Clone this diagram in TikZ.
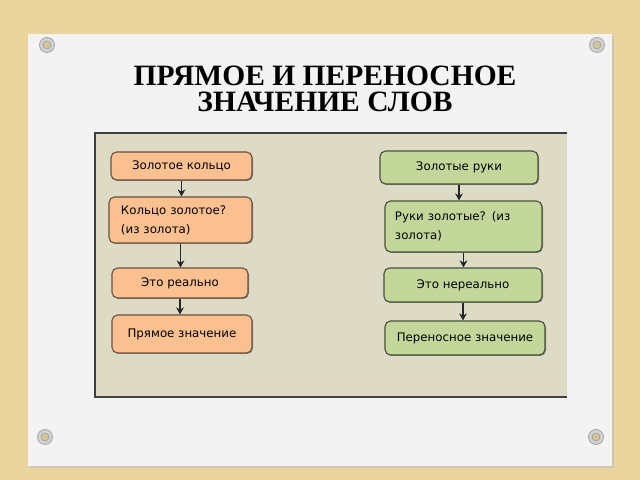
\documentclass[tikz,border=0pt]{standalone}
\usepackage{fontspec}
\setmainfont{Liberation Serif}
\newfontfamily\boxfont{DejaVu Sans}
\usepackage{tikz}
\usetikzlibrary{arrows.meta,positioning,shadows}
\usepackage{xcolor}
\definecolor{woodbg}{RGB}{234,213,158}
\definecolor{cardwhite}{RGB}{243,243,243}
\definecolor{panelgray}{RGB}{221,218,197}
\definecolor{ringorange}{RGB}{250,192,144}
\definecolor{ringedge}{RGB}{105,82,64}
\definecolor{handgreen}{RGB}{196,215,155}
\definecolor{handedge}{RGB}{72,80,62}
\tikzstyle{arrow} = [line width=0.8pt,-{Stealth[length=5pt,width=5.5pt]},color=black!85]
\tikzstyle{goldbox} = [rectangle, rounded corners=4pt, draw=ringedge, fill=ringorange, line width=0.8pt, inner sep=0pt, font=\boxfont\fontsize{8.4}{13.5}\selectfont, drop shadow={shadow xshift=0.7pt, shadow yshift=-0.7pt, opacity=0.6, fill=black!70}]
\tikzstyle{handbox} = [goldbox, draw=handedge, fill=handgreen]
\tikzstyle{screw} = [fill=gray!35, draw=gray!70, line width=0.6pt]
\tikzstyle{screwhole} = [fill=woodbg!80!gray, draw=gray!80, line width=0.4pt]

\begin{document}
\begin{tikzpicture}[x=0.025cm, y=-0.025cm]
\useasboundingbox (0,0) rectangle (640,480);
% Wood and card
\fill[woodbg] (0,0) rectangle (640,480);
\fill[black!25, opacity=0.6] (30,36) rectangle (614,468);
\fill[cardwhite] (28,34) rectangle (612,466);

% Screws
\filldraw[screw] (47,45) circle (7.5);
\filldraw[screwhole] (47,45) circle (4);
\filldraw[screw] (597,45) circle (7.5);
\filldraw[screwhole] (597,45) circle (4);
\filldraw[screw] (45,437) circle (7.5);
\filldraw[screwhole] (45,437) circle (4);
\filldraw[screw] (596,437) circle (7.5);
\filldraw[screwhole] (596,437) circle (4);

% Title
\node[font=\bfseries\fontsize{21}{19}\selectfont, align=center] (title) at (325,89) {ПРЯМОЕ И ПЕРЕНОСНОЕ\\ЗНАЧЕНИЕ СЛОВ};

% Panel
\fill[panelgray] (95,133) rectangle (567,397);
\draw[line width=0.8pt, black!75] (567,133) -- (95,133) -- (95,397) -- (567,397);

% Left column
\node[goldbox, minimum width=3.525cm, minimum height=0.7cm] (l1) at (181.5,166) {Золотое кольцо};
\node[goldbox, minimum width=3.575cm, minimum height=1.15cm, text width=2.975cm, align=left] (l2) at (180.5,220) {Кольцо золотое?\\(из золота)};
\node[goldbox, minimum width=3.4cm, minimum height=0.75cm] (l3) at (180,283) {Это реально};
\node[goldbox, minimum width=3.5cm, minimum height=0.95cm] (l4) at (182,334) {Прямое значение};

% Right column
\node[handbox, minimum width=3.95cm, minimum height=0.825cm] (r1) at (459,167.5) {Золотые руки};
\node[handbox, minimum width=3.925cm, minimum height=1.275cm, text width=3.425cm, align=left] (r2) at (463.5,226.5) {Руки золотые? (из\\золота)};
\node[handbox, minimum width=3.95cm, minimum height=0.85cm] (r3) at (463,285) {Это нереально};
\node[handbox, minimum width=4cm, minimum height=0.85cm] (r4) at (465,338) {Переносное значение};

% Arrows
\draw[arrow] (l1.south) -- (l1.south |- l2.north);
\draw[arrow] (l2.south) -- (l2.south |- l3.north);
\draw[arrow] (l3.south) -- (l3.south |- l4.north);
\draw[arrow] (r1.south) -- (r1.south |- r2.north);
\draw[arrow] (r2.south) -- (r2.south |- r3.north);
\draw[arrow] (r3.south) -- (r3.south |- r4.north);
\end{tikzpicture}
\end{document}
